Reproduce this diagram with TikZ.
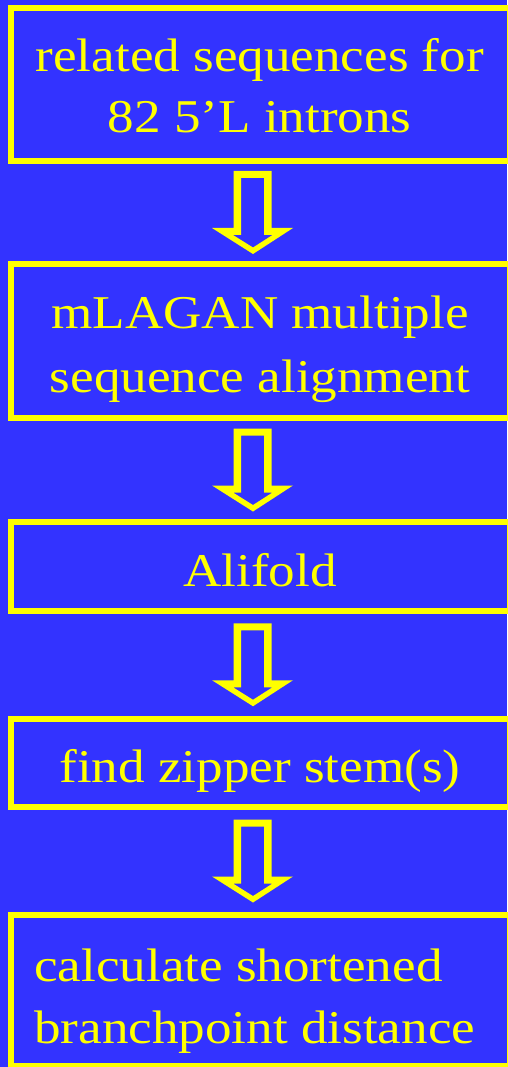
\documentclass[tikz,border=0pt]{standalone}
\usepackage{fontspec}
\setmainfont{Liberation Serif}[FakeStretch=1.13]
\usetikzlibrary{calc}
\definecolor{bg}{RGB}{51,51,255}
\definecolor{yl}{RGB}{255,255,0}
\tikzset{
  stagebox/.style={draw=yl, line width=6pt, inner sep=0pt, minimum width=498.5pt},
  txt/.style={text=yl, inner sep=0pt, font=\fontsize{47}{62}\selectfont},
  blockarrow/.pic={
    \fill[yl, even odd rule]
      (-19,-41.5) -- (19,-41.5) -- (19,15.5) -- (40.5,15.5) -- (0.5,41.5) -- (-40.5,15.5) -- (-19,15.5) -- cycle
      (-11.5,-34.5) -- (11.5,-34.5) -- (11.5,22.5) -- (20,22.5) -- (0.5,35) -- (-19.5,22.5) -- (-11.5,22.5) -- cycle;
  }
}
\begin{document}
\begin{tikzpicture}[x=1pt,y=-1pt]
\fill[bg] (0,0) rectangle (507,1067);
\useasboundingbox (0,0) rectangle (507,1067);
% boxes
\node[stagebox, minimum height=153pt] (b1) at (260.25,84.5) {};
\node[stagebox, minimum height=154pt] (b2) at (260.25,341) {};
\node[stagebox, minimum height=89pt] (b3) at (260.25,566.5) {};
\node[stagebox, minimum height=88.5pt] (b4) at (260.25,762.75) {};
\node[stagebox, minimum height=151pt] (b5) at (260.25,990.5) {};
% texts
\node[txt, anchor=base] (t1a) at (259.75,72) {related sequences for};
\node[txt, anchor=base] (t1b) at (259.75,133) {82 5’L introns};
\node[txt, anchor=base] (t2a) at (260,328) {mLAGAN multiple};
\node[txt, anchor=base] (t2b) at (260,392) {sequence alignment};
\node[txt, anchor=base] (t3) at (260,586) {Alifold};
\node[txt, anchor=base] (t4) at (260,782) {find zipper stem(s)};
\node[txt, anchor=base west] (t5a) at (34,981) {calculate shortened};
\node[txt, anchor=base west] (t5b) at (34,1043) {branchpoint distance};
% arrows
\pic at ($(b1.south)!0.5!(b2.north)+(-7.75,0)$) {blockarrow};
\pic at ($(b2.south)!0.5!(b3.north)+(-7.75,0)$) {blockarrow};
\pic at ($(b3.south)!0.5!(b4.north)+(-7.75,0)$) {blockarrow};
\pic at ($(b4.south)!0.5!(b5.north)+(-7.75,0)$) {blockarrow};
\end{tikzpicture}
\end{document}
